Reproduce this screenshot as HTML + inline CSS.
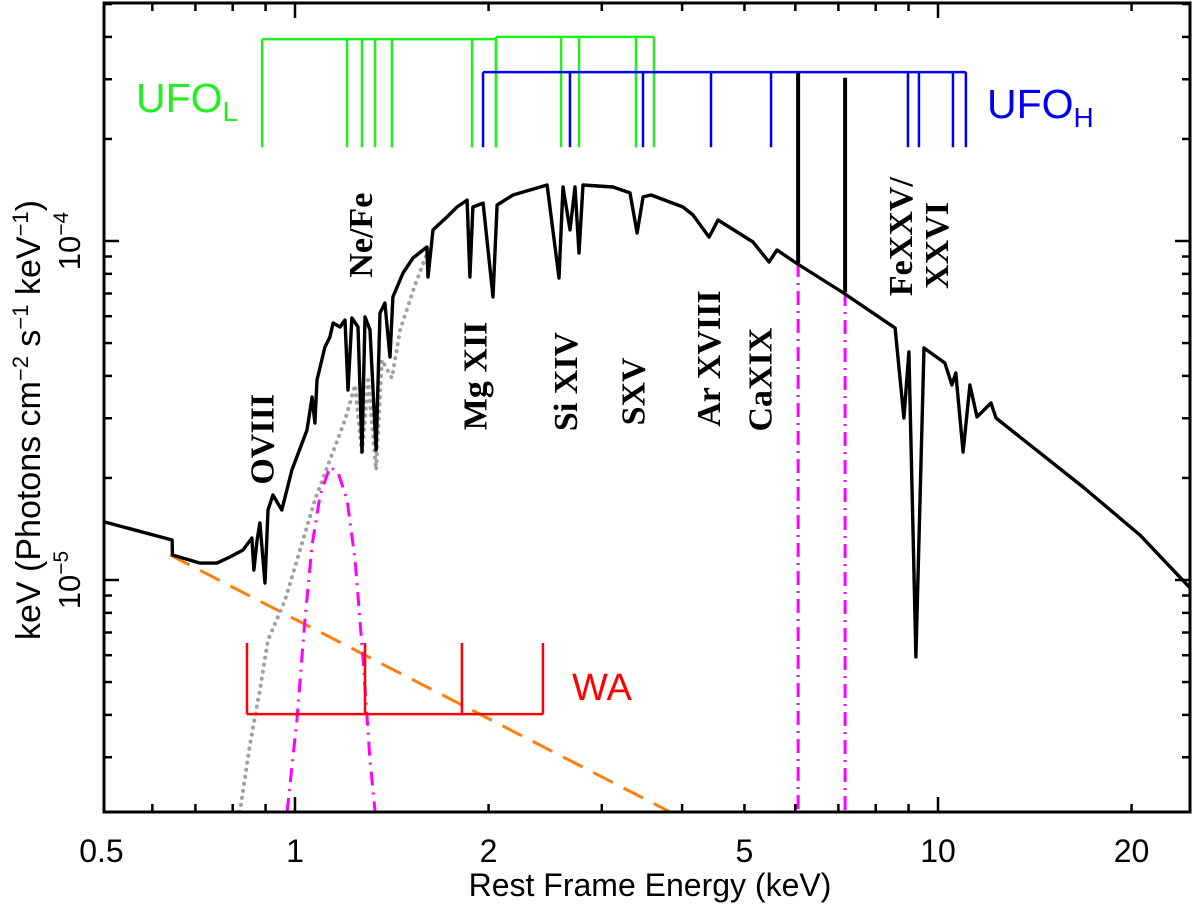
<!DOCTYPE html>
<html><head><meta charset="utf-8"><style>
html,body{margin:0;padding:0;background:#fff;}
svg{display:block;font-family:"Liberation Sans",sans-serif;}
.lab{font-family:"Liberation Serif",serif;font-weight:bold;font-size:34px;fill:#000;}
</style></head><body>
<svg id="chart" width="1200" height="904" viewBox="0 0 1200 904" xmlns="http://www.w3.org/2000/svg">
<g id="plot"></g>
</svg>
<script>
// ---- data ----
const modelEnergy = [0.506,0.644,0.645,0.712,0.756,0.792,0.830,0.857,0.863,0.873,0.882,0.898,0.908,0.924,0.954,0.989,1.044,1.063,1.074,1.082,1.113,1.133,1.146,1.175,1.196,1.209,1.226,1.253,1.271,1.285,1.308,1.337,1.356,1.380,1.405,1.420,1.472,1.526,1.604,1.610,1.639,1.723,1.786,1.852,1.871,1.891,1.961,2.032,2.062,2.183,2.320,2.466,2.574,2.611,2.677,2.726,2.765,2.805,3.123,3.319,3.404,3.478,3.579,4.012,4.159,4.405,4.549,5.155,5.460,5.619,6.016,7.09,8.575,8.85,9.01,9.24,9.51,10.25,10.51,10.66,10.94,11.21,11.50,12.09,12.31,16.81,20.6,24.66];
const modelFluxE5 = [1.483,1.312,1.185,1.122,1.122,1.169,1.226,1.330,1.070,1.312,1.473,0.980,1.609,1.781,1.609,2.111,2.770,3.467,2.904,3.890,4.864,5.209,5.731,5.575,5.848,3.635,5.929,5.575,2.386,5.97,5.465,2.418,6.133,6.562,4.548,6.839,8.047,8.91,9.60,7.83,10.78,11.77,12.6,13.2,7.83,12.6,12.94,6.839,12.77,13.67,14.14,14.63,7.78,14.43,10.78,14.43,9.22,14.63,14.43,13.86,10.56,13.49,13.67,12.6,11.93,10.27,11.53,9.93,8.67,9.41,8.61,7.07,5.54,3.006,4.707,0.593,4.835,4.365,3.76,4.08,2.386,3.76,3.027,3.327,3.006,1.881,1.358,0.947];
const grayEnergy = [0.821,0.851,0.882,0.908,0.965,1.018,1.074,1.133,1.196,1.240,1.271,1.299,1.337,1.365,1.415,1.457,1.537,1.622];
const grayFluxE5 = [0.207,0.326,0.474,0.665,0.873,1.226,1.722,2.259,2.965,3.76,2.338,3.890,2.111,4.457,3.944,5.465,7.41,9.73];
const gaussEnergy = [0.972,1.007,1.036,1.063,1.094,1.133,1.166,1.205,1.240,1.276,1.308,1.332];
const gaussFluxE5 = [0.207,0.386,0.762,1.268,1.781,2.154,2.083,1.722,1.146,0.581,0.294,0.207];
const emisEnergy = [6.06,7.17];
const emisBaseE5 = [8.61,7.07];
const emisPeakE5 = [31.5,30.3];
const plEnergy = [0.639,3.83];
const plFluxE5 = [1.186,0.207];
const waEnergy = [0.842,1.285,1.818,2.43];
const waBarE5 = 0.402, waTickE5 = 0.652;
const ufoL1Energy = [0.889,1.205,1.271,1.332,1.415,1.885];
const ufoL2Energy = [2.054,2.593,2.765,3.391,3.617];
const ufoL1TopE5 = 39.4, ufoL2TopE5 = 40.0, ufoBotE5 = 18.9;
const ufoHEnergy = [1.961,2.677,3.477,4.436,5.50,8.98,9.34,10.55,11.05];
const ufoHTopE5 = 31.5;
const xTickLabels = ["0.5","1","2","5","10","20"];
const xTickValues = [0.5,1,2,5,10,20];
const xMinor = [0.6,0.7,0.8,0.9,2,3,4,5,6,7,8,9,20];
const ionLabels = ["OVIII","Ne/Fe","Mg XII","Si XIV","SXV","Ar XVIII","CaXIX","FeXXV/","XXVI"];
const ionEnergy = [0.90,1.28,1.93,2.67,3.40,4.45,5.35,8.85,10.08];
const ionFluxE5 = [2.6,10.4,4.0,3.85,3.6,4.5,3.9,10.3,9.7];

// ---- axes ----
const L=104,R=1190,T=3,B=812;
const X1=295, DEC_X=643, Y5=580, DEC_Y=339;
const xs = e => X1 + DEC_X*Math.log10(e);
const ys = f5 => Y5 - DEC_Y*Math.log10(f5);
const NS="http://www.w3.org/2000/svg";
const plot=document.getElementById('plot');
function mk(tag,attrs,parent){const el=document.createElementNS(NS,tag);for(const k in attrs)el.setAttribute(k,attrs[k]);(parent||plot).appendChild(el);return el;}
function pathFrom(E,F){return E.map((e,i)=>(i?'L':'M')+xs(e).toFixed(1)+','+ys(F[i]).toFixed(1)).join(' ');}

const defs=mk('defs',{});
const cp=mk('clipPath',{id:'clip'},defs);
mk('rect',{x:L,y:T,width:R-L,height:B-T},cp);
const g=mk('g',{'clip-path':'url(#clip)'});



let el=mk('path',{d:pathFrom(plEnergy,plFluxE5),stroke:'#ff7f0e',fill:'none','stroke-width':3,'stroke-dasharray':'22 12'},g);


el=mk('path',{d:pathFrom(grayEnergy,grayFluxE5),stroke:'#a0a0a0',fill:'none','stroke-width':4,'stroke-dasharray':'0.1 7','stroke-linecap':'round'},g);


el=mk('path',{d:pathFrom(gaussEnergy,gaussFluxE5),stroke:'#ff00ff',fill:'none','stroke-width':3,'stroke-dasharray':'14 7 2 7'},g);


emisEnergy.forEach((e,i)=>{
 const l=mk('line',{x1:xs(e),x2:xs(e),y1:ys(emisBaseE5[i]),y2:B+5,stroke:'#ff00ff','stroke-width':3,'stroke-dasharray':'14 6 2 6'},g);
 
 
});
el=mk('path',{d:pathFrom(modelEnergy,modelFluxE5),stroke:'#000',fill:'none','stroke-width':3.4,'stroke-linejoin':'round'},g);


emisEnergy.forEach((e,i)=>{
 const l=mk('line',{x1:xs(e),x2:xs(e),y1:ys(emisBaseE5[i]),y2:ys(emisPeakE5[i]),stroke:'#000','stroke-width':4},g);
 
 
});

el=mk('line',{x1:xs(waEnergy[0]),x2:xs(waEnergy[waEnergy.length-1]),y1:ys(waBarE5),y2:ys(waBarE5),stroke:'#ff0000','stroke-width':2.5});


waEnergy.forEach(e=>{const l=mk('line',{x1:xs(e),x2:xs(e),y1:ys(waBarE5),y2:ys(waTickE5),stroke:'#ff0000','stroke-width':2.5});
 
 });
function bracket(E,top,color,name){
 const b=mk('line',{x1:xs(E[0]),x2:xs(E[E.length-1]),y1:ys(top),y2:ys(top),stroke:color,'stroke-width':2.5});
 
 
 E.forEach(e=>{const l=mk('line',{x1:xs(e),x2:xs(e),y1:ys(top),y2:ys(ufoBotE5),stroke:color,'stroke-width':2.5});
  
  });
}
bracket(ufoL1Energy.concat([ufoL2Energy[0]]),ufoL1TopE5,'#22ee22','ufo-l');
bracket(ufoL2Energy,ufoL2TopE5,'#22ee22','ufo-l2');
bracket(ufoHEnergy,ufoHTopE5,'#0000ee','ufo-h');

ionLabels.forEach((t,i)=>{
 const x=xs(ionEnergy[i]), y=ys(ionFluxE5[i]);
 const tx=mk('text',{x:0,y:0,'class':'lab','font-size':34,'text-anchor':'middle',transform:`translate(${(x+8).toFixed(1)},${y.toFixed(1)}) rotate(-90)`});
 tx.textContent=t;
 
 
});

el=mk('rect',{x:L,y:T,width:R-L,height:B-T,fill:'none',stroke:'#000','stroke-width':3});


function xt(v,len){const x=xs(v);
 let a=mk('line',{x1:x,x2:x,y1:B,y2:B-len,stroke:'#000','stroke-width':2.5});
 a=mk('line',{x1:x,x2:x,y1:T,y2:T+len,stroke:'#000','stroke-width':2.5});}
xMinor.forEach(v=>xt(v,8)); [1,10].forEach(v=>xt(v,15));
xTickValues.forEach((v,i)=>{const t=mk('text',{x:xs(v),y:862,'text-anchor':'middle','font-size':32});t.textContent=xTickLabels[i];
 });
for(let d=-1;d<=1;d++){for(let m=1;m<=9;m++){const f=m*Math.pow(10,d);const y=ys(f);if(y<T||y>B)continue;const len=(m===1)?15:8;
 let a=mk('line',{x1:L,x2:L+len,y1:y,y2:y,stroke:'#000','stroke-width':2.5});
 a=mk('line',{x1:R,x2:R-len,y1:y,y2:y,stroke:'#000','stroke-width':2.5});}}
[[1,'10','−5'],[10,'10','−4']].forEach(([f,b,e])=>{const y=ys(f);
 const t=mk('text',{x:0,y:0,'font-size':31,'text-anchor':'middle',transform:`translate(80,${y}) rotate(-90)`});
 t.innerHTML=`${b}<tspan dy="-12" font-size="21">${e}</tspan>`;
 });
</script>
<svg style="position:absolute;left:0;top:0" width="1200" height="904">
<text x="650" y="896" text-anchor="middle" font-size="32" font-family="Liberation Sans, sans-serif">Rest Frame Energy (keV)</text>
<text transform="translate(40,420) rotate(-90)" text-anchor="middle" font-size="34" font-family="Liberation Sans, sans-serif">keV (Photons cm<tspan dy="-12" font-size="22">−2</tspan><tspan dy="12"> s</tspan><tspan dy="-12" font-size="22">−1</tspan><tspan dy="12"> keV</tspan><tspan dy="-12" font-size="22">−1</tspan><tspan dy="12">)</tspan></text>
<text x="136" y="112" font-size="41" fill="#22ee22" font-family="Liberation Sans, sans-serif">UFO<tspan dy="9" font-size="28">L</tspan></text>
<text x="987" y="118" font-size="41" fill="#0000ee" font-family="Liberation Sans, sans-serif">UFO<tspan dy="9" font-size="28">H</tspan></text>
<text x="572" y="700" font-size="38" fill="#ff0000" font-family="Liberation Sans, sans-serif">WA</text>
</svg>
</body></html>
